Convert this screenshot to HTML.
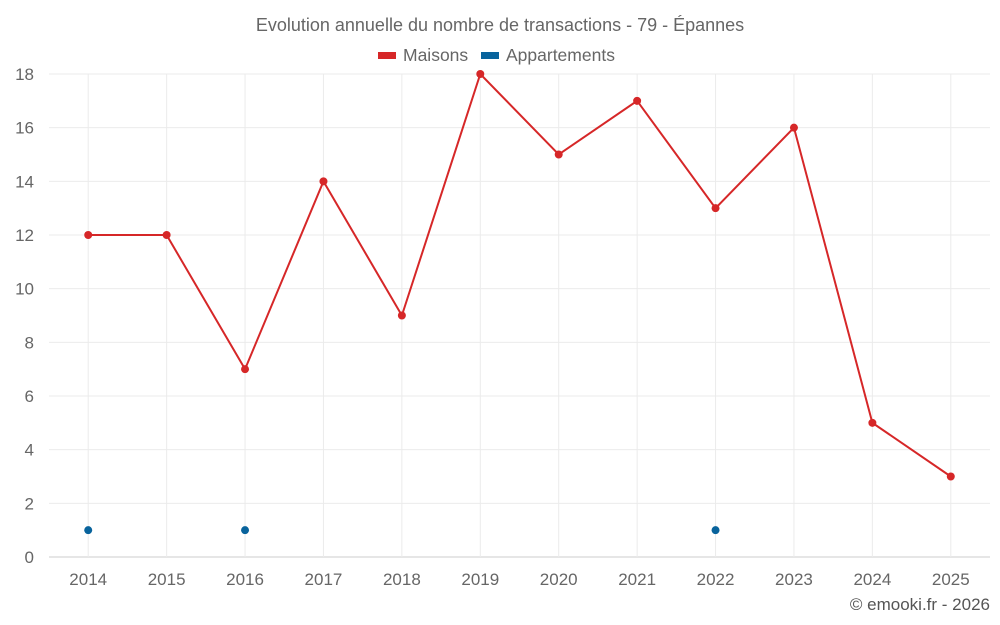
<!DOCTYPE html>
<html><head><meta charset="utf-8"><style>
body{margin:0;background:#fff;}
svg{display:block;font-family:"Liberation Sans",sans-serif;}
</style></head><body>
<svg id="chart" width="1000" height="625">
<text x="500" y="31" text-anchor="middle" font-size="18" fill="#666">Evolution annuelle du nombre de transactions - 79 - Épannes</text>
<g>
<g><rect x="378" y="52" width="18" height="7" fill="#d62728"/><text x="403" y="61" font-size="17.5" fill="#666">Maisons</text></g>
<g><rect x="481" y="52" width="18" height="7" fill="#08639c"/><text x="506" y="61" font-size="17.5" fill="#666">Appartements</text></g>
</g>
<g id="grid"></g><g id="axes"></g><g id="series"></g>
<text x="990" y="610" text-anchor="end" font-size="17" fill="#555">© emooki.fr - 2026</text>
</svg>
<script>
const categories=["2014","2015","2016","2017","2018","2019","2020","2021","2022","2023","2024","2025"];
const maisons=[12,12,7,14,9,18,15,17,13,16,5,3];
const appartements=[1,null,1,null,null,null,null,null,1,null,null,null];
const yTicks=[0,2,4,6,8,10,12,14,16,18];
const NS="http://www.w3.org/2000/svg";
const L=49,R=990,T=74,B=557,yMax=18;
const bw=(R-L)/categories.length;
const xs=i=>L+bw*(i+0.5);
const ys=v=>B-(v/yMax)*(B-T);
function mk(p,tag,a){const e=document.createElementNS(NS,tag);for(const k in a)e.setAttribute(k,a[k]);p.appendChild(e);return e;}
const grid=document.getElementById('grid'),axes=document.getElementById('axes'),series=document.getElementById('series');
yTicks.forEach(v=>{
 const l=mk(grid,'line',{x1:L,x2:R,y1:ys(v),y2:ys(v),stroke:v===0?'#ccc':'#ebebeb','stroke-width':1});
 
 
 const t=mk(axes,'text',{x:34,y:ys(v)+6,'text-anchor':'end','font-size':17,fill:'#666'});t.textContent=v;
 
 
});
categories.forEach((c,i)=>{
 const l=mk(grid,'line',{x1:xs(i),x2:xs(i),y1:T,y2:B,stroke:'#ebebeb','stroke-width':1});
 
 
 const t=mk(axes,'text',{x:xs(i),y:585,'text-anchor':'middle','font-size':17,fill:'#666'});t.textContent=c;
 
 
});
function draw(data,color,name){
 let d='',pen=false;
 data.forEach((v,i)=>{if(v==null){pen=false;return;}d+=(pen?'L':'M')+xs(i)+' '+ys(v)+' ';pen=true;});
 const p=mk(series,'path',{d:d,fill:'none',stroke:color,'stroke-width':2});
 
 
 data.forEach((v,i)=>{if(v==null)return;
  const c=mk(series,'circle',{cx:xs(i),cy:ys(v),r:4,fill:color});
  
  
 });
}
draw(maisons,'#d62728','maisons');
draw(appartements,'#08639c','appartements');
</script>
</body></html>
